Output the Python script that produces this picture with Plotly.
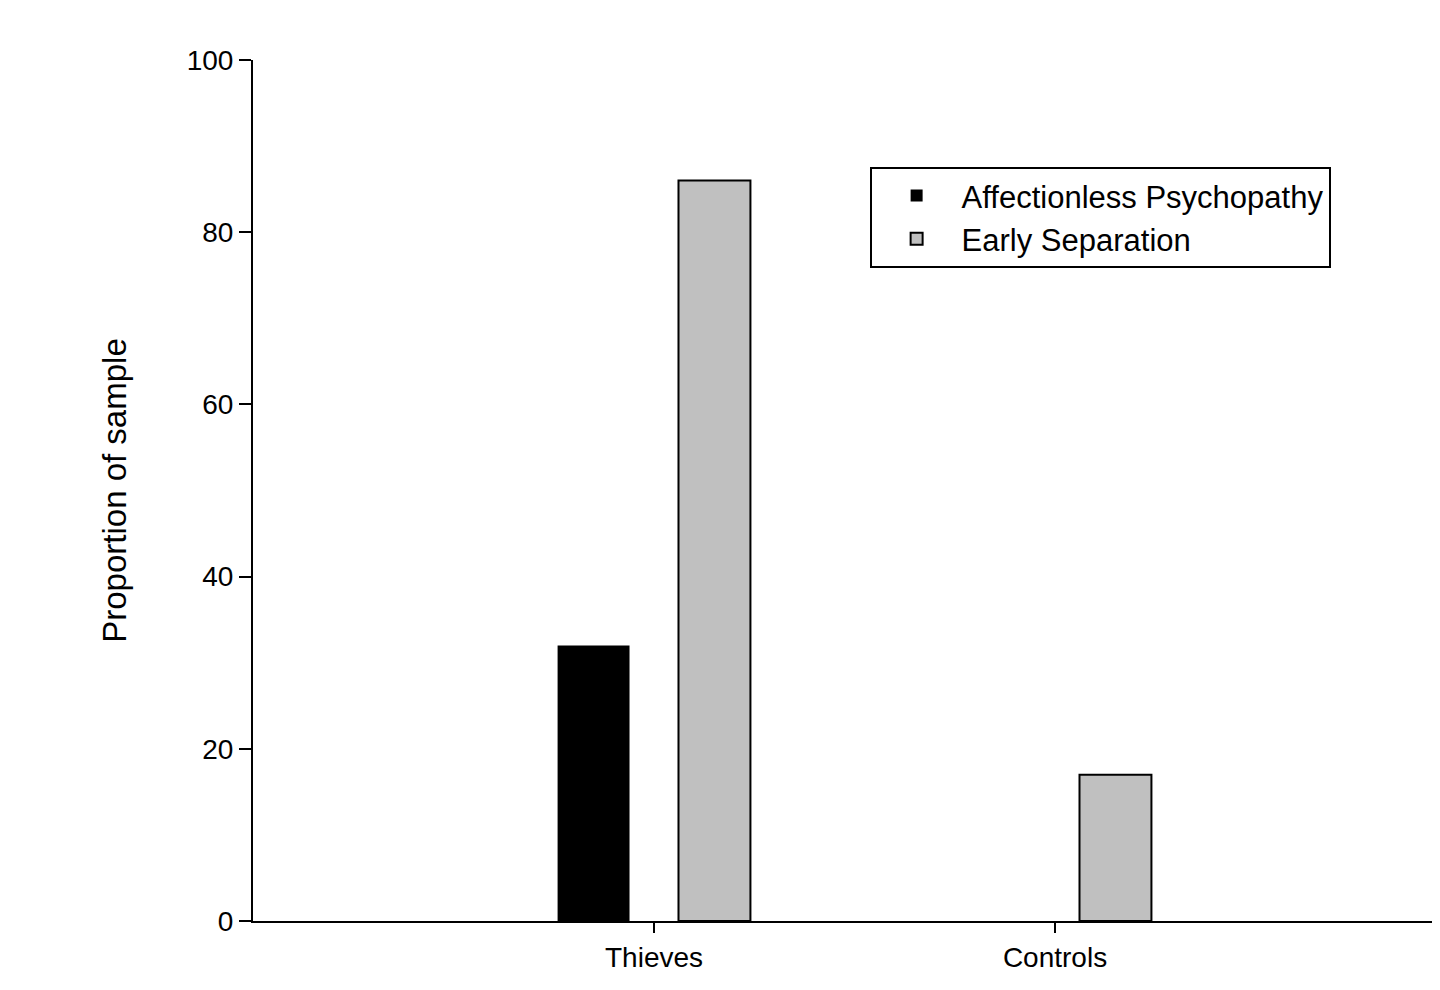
import plotly.graph_objects as go

groups = ["Thieves", "Controls"]
affectionless = [32, 0]
early_sep = [86, 17]

fig = go.Figure()
fig.add_trace(go.Bar(x=groups, y=affectionless, name="Affectionless Psychopathy",
                     marker=dict(color="black", line=dict(color="black", width=0))))
fig.add_trace(go.Bar(x=groups, y=early_sep, name="Early Separation",
                     marker=dict(color="#c0c0c0", line=dict(color="black", width=2))))

fig.update_layout(
    width=1440, height=990,
    margin=dict(l=245, r=0, t=52, b=77, autoexpand=False),
    plot_bgcolor="white", paper_bgcolor="white",
    barmode="group", bargap=0.397, bargroupgap=0.405,
    font=dict(family="Arial, Liberation Sans", size=28, color="black"),
    showlegend=True,
    legend=dict(x=0.516, y=0.876, xanchor="left", yanchor="top",
                bordercolor="black", borderwidth=2, bgcolor="white",
                font=dict(size=31), tracegroupgap=8,
                itemwidth=80),
)
fig.update_xaxes(range=[-1, 1.98], showline=True, linecolor="black", linewidth=2,
                 ticks="outside", ticklen=10, tickwidth=2, tickcolor="black",
                 showgrid=False, fixedrange=True, automargin=False)
fig.update_yaxes(range=[0, 100], dtick=20, showline=True, linecolor="black", linewidth=2,
                 ticks="outside", ticklen=12, tickwidth=2, tickcolor="black",
                 showgrid=False, zeroline=False, automargin=False,
                 title=dict(text="Proportion of sample", font=dict(size=33), standoff=50))

fig.write_html("out.html")
